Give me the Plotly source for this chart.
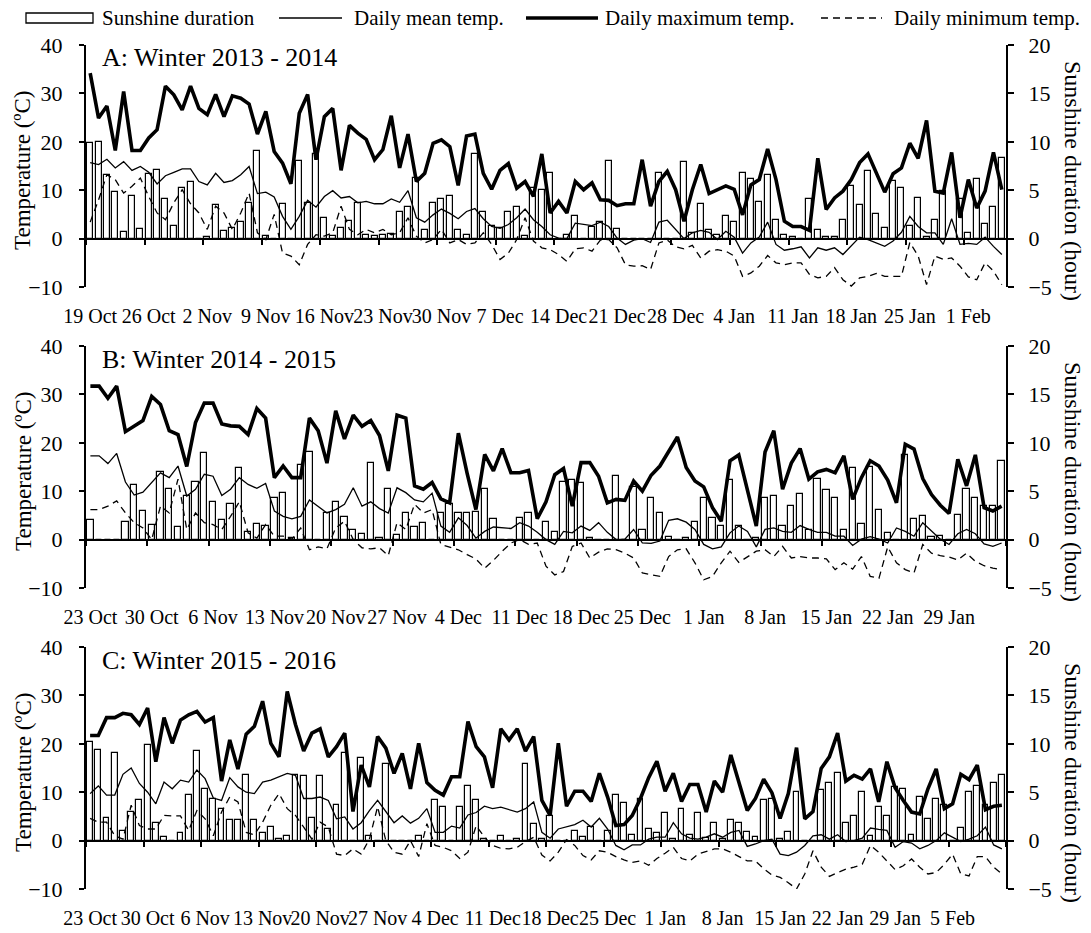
import plotly.graph_objects as go
import pandas as pd

# ---------------- DATA ----------------
# Panel A: Winter 2013 - 2014 (daily, starting 19 Oct 2013)
A_START = "2013-10-19"
A_SUN = [9.9, 10.0, 6.6, 4.8, 0.7, 4.4, 1.0, 6.7, 7.1, 4.1, 1.3, 5.2, 5.8, 0, 0.2, 3.5, 0.8, 1.1, 1.7, 3.7,
         9.1, 0.3, 0, 3.6, 0, 8.0, 3.7, 8.7, 2.1, 0.3, 1.1, 1.8, 3.7, 0.4, 0.3, 0.4, 0.5, 2.7, 3.3, 6.3,
         0.9, 3.7, 4.1, 4.4, 0.9, 0.4, 8.7, 2.7, 1.3, 1.1, 2.7, 3.3, 0.3, 5.2, 5.0, 6.8, 0, 0.4, 2.3, 0,
         1.2, 1.7, 8.0, 1.0, 0, 0, 0, 0, 6.8, 0, 0, 7.9, 0.6, 3.6, 0.9, 0.4, 2.3, 1.7, 6.8, 6.2,
         3.8, 6.6, 1.9, 0.4, 0.2, 0, 4.1, 0.9, 0.2, 0.2, 1.9, 5.4, 3.5, 7.0, 2.5, 1.1, 6.0, 5.2, 1.3, 4.2,
         0.2, 1.9, 4.9, 0, 4.1, 0.6, 6.2, 1.5, 3.3, 8.3]
A_MEAN = [15.7, 15.3, 16.4, 14.6, 15.9, 14.1, 14.9, 13.7, 11.3, 13.0, 13.7, 14.4, 14.4, 11.8, 11.1, 13.5, 11.6, 12.0, 13.2, 14.9,
          9.3, 9.6, 8.6, 4.6, 1.9, 4.6, 7.9, 6.5, 8.7, 9.9, 8.4, 8.7, 7.4, 7.7, 7.2, 7.2, 8.2, 7.5, 9.9, 4.3,
          3.4, 4.9, 6.1, 5.2, 4.1, 5.6, 6.2, 4.1, 2.5, 2.1, 2.9, 4.3, 6.1, 3.9, 2.5, 0.8, 0.1, 0.0, 3.2, 2.9,
          2.7, 3.4, 2.5, 0.1, -1.2, -0.3, 0.0, -0.8, 3.4, 3.8, 1.9, 0.0, 1.2, 1.7, 1.3, -0.2, 1.5, 0.3, -3.0, -0.9,
          0.3, 3.4, -1.2, -2.4, -2.1, -1.7, -4.0, -1.9, -2.4, -1.9, -3.3, -1.4, 0.3, -0.2, -0.9, -1.6, -0.5, 1.3, 4.6, 2.5,
          1.2, 1.2, -1.2, 4.1, -1.2, -1.0, -1.2, 0.3, -1.6, -3.3]
A_MAX = [34.2, 24.9, 27.4, 18.2, 30.4, 18.2, 18.2, 20.8, 22.5, 31.5, 29.7, 26.6, 31.5, 26.9, 25.6, 29.8, 25.2, 29.5, 29.0, 27.8,
         21.6, 26.3, 18.0, 15.6, 11.3, 25.9, 29.8, 16.3, 25.2, 26.9, 14.1, 23.4, 21.8, 20.5, 16.3, 18.4, 25.4, 14.6, 21.6, 11.8,
         13.5, 19.7, 20.4, 19.0, 11.0, 21.2, 21.6, 13.5, 10.2, 14.1, 15.5, 10.4, 11.8, 8.7, 17.5, 5.3, 7.7, 5.3, 11.8, 10.1,
         11.5, 8.0, 7.9, 6.8, 7.2, 7.2, 16.3, 6.7, 11.8, 13.9, 10.1, 3.6, 10.1, 15.3, 9.3, 10.1, 10.9, 10.2, 4.9, 11.1,
         12.2, 18.5, 12.2, 3.6, 2.5, 2.5, 1.7, 16.6, 6.0, 8.4, 9.8, 12.2, 15.7, 17.5, 13.5, 9.6, 13.4, 14.6, 19.7, 16.6,
         24.4, 9.8, 9.4, 17.8, 4.3, 12.2, 6.3, 9.8, 17.8, 10.1]
A_MIN = [3.4, 8.0, 13.2, 12.2, 9.4, 10.8, 12.5, 8.7, 5.3, 3.9, 7.4, 10.1, 7.2, 5.3, 1.9, 6.7, 5.3, 1.9, 5.3, 9.4,
         1.2, -0.2, 5.0, -3.0, -3.6, -5.4, -1.2, 0.8, 0.5, 1.2, 6.7, 1.9, 0.8, 1.9, 1.2, 1.9, 0.8, 1.2, 4.3, 0.5,
         -0.9, -0.2, 1.9, -0.9, -0.2, -1.2, -0.9, 1.2, -1.2, -4.3, -3.0, -0.2, 4.3, -0.5, -1.9, -2.3, -3.3, -4.7, -2.1, -1.9,
         -2.6, -0.3, -0.2, -1.9, -5.4, -5.7, -5.6, -6.4, -0.9, -0.3, -1.7, -2.1, -1.4, -4.0, -2.6, -2.3, -2.6, -3.6, -7.8, -7.1,
         -5.7, -3.5, -5.0, -5.4, -5.0, -5.0, -7.4, -8.1, -7.8, -6.0, -8.5, -9.8, -8.1, -7.8, -7.2, -7.8, -7.8, -7.8, -0.8, -3.6,
         -9.5, -3.6, -4.3, -4.0, -5.7, -7.9, -8.5, -5.0, -6.7, -9.5]
A_TICKTEXT = ["19 Oct", "26 Oct", "2 Nov", "9 Nov", "16 Nov", "23 Nov", "30 Nov", "7 Dec", "14 Dec",
              "21 Dec", "28 Dec", "4 Jan", "11 Jan", "18 Jan", "25 Jan", "1 Feb"]

# Panel B: Winter 2014 - 2015 (daily, starting 23 Oct 2014)
B_START = "2014-10-23"
B_SUN = [2.0, 0, 0, 0, 1.8, 5.6, 3.0, 1.5, 7.0, 5.2, 1.3, 4.5, 6.0, 8.9, 3.9, 2.0, 3.7, 7.4, 0.8, 1.6,
         1.4, 4.3, 4.8, 0.2, 7.7, 9.1, 0, 2.7, 3.9, 2.3, 1.0, 0.6, 7.9, 0.2, 5.2, 0.5, 2.7, 1.3, 1.7, 0,
         2.7, 3.7, 2.7, 2.7, 2.9, 5.2, 2.1, 0, 0, 2.2, 2.7, 0, 1.8, 0.8, 6.0, 6.2, 5.8, 0.2, 0, 0,
         6.6, 0, 5.4, 1.0, 4.3, 2.7, 0.3, 0, 0.2, 1.8, 4.3, 2.2, 1.4, 6.2, 1.4, 0, 0.2, 4.3, 4.5, 1.4,
         3.5, 4.7, 1.0, 6.3, 5.1, 4.3, 1.0, 7.4, 1.6, 7.5, 3.1, 0.7, 0, 8.7, 2.1, 2.4, 0.3, 0.4, 0, 2.5,
         5.2, 4.3, 3.5, 3.5, 8.1]
B_MEAN = [17.3, 17.3, 15.7, 17.8, 11.9, 9.2, 9.8, 11.9, 13.8, 12.8, 15.2, 9.0, 10.4, 13.5, 13.1, 9.1, 10.4, 12.8, 11.4, 10.6,
          11.6, 5.9, 4.8, 4.3, 4.8, 8.2, 6.8, 5.5, 6.2, 7.3, 10.7, 6.9, 7.8, 6.4, 5.5, 10.7, 9.7, 8.2, 7.8, 9.6,
          2.8, 1.5, 4.5, 2.9, 0.3, 1.7, 2.6, 2.4, 2.3, 3.5, 2.8, 1.5, 0.0, -1.0, 1.7, 1.4, 2.8, 1.9, 3.5, 1.5,
          0.0, 0.1, 2.1, -0.7, -0.8, -0.3, 4.0, 4.3, 3.6, 2.1, -1.0, -1.9, -1.5, 1.4, 2.8, 1.7, -1.5, 2.1, 2.4, 1.7,
          1.5, 2.9, 2.1, 1.5, 1.5, 0.7, 0.7, -1.2, 0.1, 0.6, 0.1, -0.7, 2.4, 1.7, 0.7, 3.5, 1.7, 0.1, -1.0, 1.2,
          2.1, 1.2, -0.9, -1.4, -0.7]
B_MAX = [31.7, 31.7, 29.2, 31.7, 22.3, 23.5, 24.6, 29.6, 27.9, 22.5, 21.7, 15.1, 24.2, 28.2, 28.2, 23.9, 23.5, 23.4, 21.7, 27.1,
         25.1, 12.8, 15.2, 12.8, 12.8, 25.1, 22.5, 15.8, 26.6, 20.8, 25.7, 23.4, 24.6, 21.5, 14.2, 25.7, 25.1, 11.1, 10.4, 11.8,
         8.4, 7.6, 22.0, 13.7, 6.2, 17.6, 14.2, 18.8, 13.8, 13.8, 14.3, 4.3, 7.8, 13.4, 14.7, 6.9, 15.9, 15.9, 13.1, 7.6,
         8.3, 8.1, 12.1, 10.0, 13.3, 15.2, 18.3, 21.2, 14.9, 12.1, 10.9, 6.6, 3.8, 16.3, 17.5, 10.0, 2.8, 18.1, 22.5, 10.4,
         15.8, 18.8, 12.5, 14.0, 14.5, 13.8, 17.3, 8.3, 12.8, 16.3, 15.2, 12.3, 7.6, 19.7, 18.7, 12.6, 9.3, 7.1, 5.4, 16.6,
         11.1, 17.5, 6.6, 5.9, 6.9]
B_MIN = [6.2, 6.2, 6.9, 8.0, 5.5, 3.5, 2.4, 0.0, 6.9, 5.5, 12.5, 2.1, 5.5, 3.5, 3.1, 2.1, 4.8, 7.8, 1.4, 0.3,
         3.1, 0.7, 0.7, 0.1, 2.4, -2.1, -1.5, -1.9, 2.4, 3.8, 0.0, -1.7, -1.9, -1.7, -3.3, 3.5, 2.1, 7.3, 5.5, 6.2,
         -1.0, -1.5, -2.1, -3.1, -4.0, -5.9, -4.3, -2.4, -0.7, 0.0, -1.0, -0.7, -5.5, -7.3, -6.6, -1.4, -0.7, -3.8, -2.6, -1.9,
         -2.1, -2.8, -3.8, -6.9, -7.3, -7.6, -3.5, -2.1, -1.9, -4.8, -8.3, -7.6, -4.8, -2.4, -4.7, -3.5, -2.4, -2.1, -3.5, -1.4,
         -3.8, -3.5, -3.8, -3.8, -4.0, -6.2, -4.8, -6.1, -3.5, -7.6, -8.0, -1.5, -4.8, -6.2, -6.9, -1.0, -2.8, -3.3, -3.6, -4.2,
         -2.8, -4.5, -5.4, -5.9, -6.2]
B_TICKTEXT = ["23 Oct", "30 Oct", "6 Nov", "13 Nov", "20 Nov", "27 Nov", "4 Dec", "11 Dec", "18 Dec",
              "25 Dec", "1 Jan", "8 Jan", "15 Jan", "22 Jan", "29 Jan"]

# Panel C: Winter 2015 - 2016 (daily, starting 23 Oct 2015)
C_START = "2015-10-23"
C_SUN = [10.2, 9.4, 2.3, 9.1, 1.0, 3.0, 4.2, 9.9, 1.8, 0.4, 0, 0.8, 4.7, 9.3, 5.3, 4.3, 3.3, 2.1, 2.1, 6.8,
         2.1, 0.8, 1.4, 0.2, 0.5, 6.8, 6.7, 2.3, 6.7, 1.2, 3.7, 9.1, 0, 8.5, 0.5, 0, 7.9, 0, 0, 0,
         0.5, 0, 4.2, 3.5, 0, 3.5, 5.6, 4.2, 0.2, 0, 0.5, 0, 0.2, 7.9, 1.7, 0.2, 2.5, 0, 0, 1.0,
         0.4, 1.4, 0, 1.0, 4.7, 3.9, 0.6, 4.3, 1.2, 0.8, 2.9, 0.2, 3.3, 0.6, 2.9, 0.3, 1.8, 0.2, 2.1, 1.8,
         0.9, 0.4, 4.2, 4.3, 0.2, 0.9, 5.0, 0, 0, 5.2, 6.0, 7.0, 1.8, 2.5, 5.0, 0.5, 3.5, 2.5, 5.5, 5.3,
         0.6, 4.5, 2.2, 4.3, 3.7, 0, 1.3, 5.0, 5.6, 3.7, 6.0, 6.8]
C_MEAN = [9.7, 11.3, 9.4, 9.4, 13.7, 15.0, 11.8, 10.0, 7.6, 12.1, 10.7, 12.5, 12.1, 14.6, 12.8, 8.8, 8.3, 13.0, 11.1, 10.0,
          9.7, 12.1, 12.5, 13.2, 13.9, 13.5, 8.7, 8.7, 9.0, 8.3, 4.5, 4.9, 2.4, 3.7, 6.2, 8.3, 5.9, 3.7, 5.1, 3.6,
          4.6, 6.6, 1.7, 1.7, 3.0, 2.6, 5.3, 5.8, 7.1, 6.6, 6.9, 6.4, 5.9, 6.6, 8.0, 1.7, 0.5, 2.4, 2.8, 3.3,
          4.2, 2.8, 4.6, 2.4, -1.0, -1.9, -0.9, -0.9, 0.3, 0.7, 0.7, 3.7, 1.4, 0.5, 0.3, 0.7, 1.4, 0.7, 1.7, 2.1,
          -1.2, -0.7, 0.0, 0.3, -2.8, -3.1, -2.4, -1.0, 1.0, 1.2, 0.3, 1.2, -0.2, 0.0, 0.5, 2.6, 2.3, 2.1, -1.4, -0.2,
          -0.5, -1.7, -1.0, 0.0, 1.6, 0.7, -0.2, 0.3, 1.0, 2.8, -0.9, -1.7]
C_MAX = [21.7, 21.7, 25.4, 25.4, 26.3, 26.0, 24.0, 27.4, 16.3, 25.4, 20.1, 24.9, 26.0, 26.7, 24.5, 25.4, 12.3, 20.8, 14.8, 22.0,
         23.6, 28.8, 20.1, 17.3, 30.8, 24.0, 18.5, 22.2, 23.1, 17.3, 19.4, 22.2, 6.0, 15.6, 11.1, 21.5, 19.1, 13.9, 18.0, 10.7,
         20.1, 12.0, 10.4, 9.4, 13.2, 13.2, 24.6, 19.4, 17.3, 10.9, 23.1, 20.8, 23.1, 18.5, 21.5, 8.3, 5.2, 20.1, 7.1, 10.2,
         10.2, 8.1, 13.9, 9.0, 3.1, 3.3, 5.2, 8.7, 13.0, 16.4, 10.2, 13.9, 8.1, 11.6, 11.6, 5.9, 12.3, 10.0, 17.7, 11.8,
         6.2, 8.7, 12.7, 9.9, 4.6, 9.7, 19.2, 4.5, 6.0, 14.9, 17.3, 22.2, 12.3, 13.5, 12.7, 14.8, 8.0, 16.3, 10.9, 8.3,
         5.9, 5.5, 10.7, 14.8, 6.6, 7.6, 13.7, 12.6, 15.6, 6.4, 7.1, 7.3]
C_MIN = [4.6, 3.8, 3.8, 1.0, 0.3, 7.3, 3.1, 2.4, 2.4, 5.2, 5.1, 5.1, 2.1, 6.2, 4.5, 1.0, 5.9, 9.0, 8.0, 1.7,
         1.2, 3.8, 7.3, 9.7, 6.6, 5.2, 2.8, 0.3, 3.8, 2.8, -2.8, -3.1, -1.7, -2.8, 0.3, 7.0, 0.0, -2.4, -2.8, 0.0,
         -3.3, 3.5, -1.0, -1.4, -2.1, -3.7, -2.4, 3.1, 0.7, -1.0, -1.6, -1.7, -1.4, -0.2, 0.7, -3.0, -4.2, -2.4, 0.2, -1.0,
         -3.1, -4.0, -2.1, -2.4, -3.3, -4.0, -4.5, -4.2, -5.1, -3.7, -2.6, -1.4, -3.7, -4.2, -2.8, -2.3, -1.7, -1.7, -2.4, -3.3,
         -4.2, -4.2, -5.8, -7.1, -7.6, -8.7, -10.0, -6.9, -2.1, -5.5, -7.4, -6.6, -5.9, -5.5, -4.9, -1.0, -2.4, -4.2, -6.0, -5.2,
         -3.8, -5.5, -6.9, -6.6, -4.9, -2.8, -6.9, -7.3, -3.3, -3.3, -5.5, -6.9]
C_TICKTEXT = ["23 Oct", "30 Oct", "6 Nov", "13 Nov", "20 Nov", "27 Nov", "4 Dec", "11 Dec", "18 Dec",
              "25 Dec", "1 Jan", "8 Jan", "15 Jan", "22 Jan", "29 Jan", "5 Feb"]

PANEL_TITLES = ["A: Winter 2013 - 2014", "B: Winter 2014 - 2015", "C: Winter 2015 - 2016"]
SERIES_NAMES = ["Sunshine duration", "Daily mean temp.", "Daily maximum temp.", "Daily minimum temp."]

panels = [
    (A_START, A_SUN, A_MEAN, A_MAX, A_MIN, A_TICKTEXT),
    (B_START, B_SUN, B_MEAN, B_MAX, B_MIN, B_TICKTEXT),
    (C_START, C_SUN, C_MEAN, C_MAX, C_MIN, C_TICKTEXT),
]

# ---------------- LAYOUT GEOMETRY ----------------
W, H = 1091, 933
ML, MR, MT, MB = 86, 85, 45, 44
PW = W - ML - MR
PH = H - MT - MB
PANEL_TOPS = [45, 346, 647]
PANEL_HPX = 242
FONT = "Liberation Serif"


def pxx(px):
    return (px - ML) / PW


def pxy(py):
    return 1 - (py - MT) / PH


fig = go.Figure()
layout = dict(
    width=W, height=H,
    margin=dict(l=ML, r=MR, t=MT, b=MB, autoexpand=False),
    paper_bgcolor="white", plot_bgcolor="white",
    font=dict(family=FONT, color="black", size=20),
    showlegend=False,
    bargap=0,
    annotations=[], shapes=[],
)

DAY = pd.Timedelta(days=1)
HALF = pd.Timedelta(hours=12)

for p, (start, sun, tmean, tmax, tmin, ticktext) in enumerate(panels):
    k = p + 1
    ko = p + 4
    sfx = "" if k == 1 else str(k)
    dates = pd.date_range(start, periods=len(sun), freq="D")
    x0, x1 = dates[0] - HALF, dates[-1] + HALF
    top = PANEL_TOPS[p]
    dom = [pxy(top + PANEL_HPX), pxy(top)]
    zero_pos = dom[0] + (dom[1] - dom[0]) * (10 / 50)

    label_vals = [dates[0] + 7 * i * DAY for i in range(len(ticktext))]
    bound_vals = []
    b = dates[0] - HALF
    while b <= x1:
        bound_vals.append(b)
        b += 7 * DAY

    fig.add_trace(go.Bar(
        x=dates, y=sun, name=SERIES_NAMES[0], xaxis="x" + sfx, yaxis="y" + sfx,
        width=0.72 * 86400000,
        marker=dict(color="white", line=dict(color="black", width=1.2)),
    ))
    fig.add_trace(go.Scatter(
        x=dates, y=tmean, name=SERIES_NAMES[1], xaxis=f"x{ko}", yaxis=f"y{ko}",
        mode="lines", line=dict(color="black", width=1.3)))
    fig.add_trace(go.Scatter(
        x=dates, y=tmax, name=SERIES_NAMES[2], xaxis=f"x{ko}", yaxis=f"y{ko}",
        mode="lines", line=dict(color="black", width=3.6)))
    fig.add_trace(go.Scatter(
        x=dates, y=tmin, name=SERIES_NAMES[3], xaxis=f"x{ko}", yaxis=f"y{ko}",
        mode="lines", line=dict(color="black", width=1.3, dash="7px,5px")))

    # bottom axis carrying the date labels
    layout["xaxis" + sfx] = dict(
        domain=[0, 1], anchor="y" + sfx, type="date", range=[x0, x1],
        showline=False, ticks="", showgrid=False, zeroline=False,
        tickmode="array", tickvals=label_vals, ticktext=ticktext,
        tickangle=0, tickfont=dict(size=20), ticklabelstandoff=15,
    )
    # sunshine axis (right)
    layout["yaxis" + sfx] = dict(
        domain=dom, anchor="x" + sfx, side="right", range=[-5, 20],
        tickmode="array", tickvals=[-5, 0, 5, 10, 15, 20],
        ticks="outside", ticklen=6, tickwidth=2, tickcolor="black",
        showline=True, linewidth=2, linecolor="black",
        showgrid=False, zeroline=False, tickfont=dict(size=22), ticklabelstandoff=10,
    )
    # axis line at 0 degrees with week ticks
    layout[f"xaxis{ko}"] = dict(
        overlaying="x" + sfx, anchor="free", position=zero_pos, type="date", range=[x0, x1],
        showline=True, linewidth=2, linecolor="black",
        ticks="outside", ticklen=5, tickwidth=2, tickcolor="black",
        tickmode="array", tickvals=bound_vals, showticklabels=False,
        showgrid=False, zeroline=False,
    )
    # temperature axis (left)
    layout[f"yaxis{ko}"] = dict(
        overlaying="y" + sfx, anchor=f"x{ko}", side="left", range=[-10, 40],
        tickmode="array", tickvals=[-10, 0, 10, 20, 30, 40],
        ticks="outside", ticklen=5, tickwidth=2, tickcolor="black",
        showline=True, linewidth=2, linecolor="black",
        showgrid=False, zeroline=False, tickfont=dict(size=22), ticklabelstandoff=12,
    )

    # panel title
    layout["annotations"].append(dict(
        text=PANEL_TITLES[p], xref="paper", yref="paper", x=pxx(100), y=pxy(top + 13),
        xanchor="left", yanchor="middle", showarrow=False, font=dict(size=26)))
    # axis titles
    mid = top + PANEL_HPX / 2
    layout["annotations"].append(dict(
        text="Temperature (ºC)", xref="paper", yref="paper", x=pxx(23), y=pxy(mid + 5),
        xanchor="center", yanchor="middle", textangle=-90, showarrow=False, font=dict(size=23)))
    layout["annotations"].append(dict(
        text="Sunshine duration (hour)", xref="paper", yref="paper", x=pxx(1073), y=pxy(mid + 15),
        xanchor="center", yanchor="middle", textangle=90, showarrow=False, font=dict(size=24)))

# ---------------- LEGEND (drawn at top) ----------------
LY = 18
layout["shapes"] += [
    dict(type="rect", xref="paper", yref="paper", x0=pxx(26), x1=pxx(93), y0=pxy(23), y1=pxy(13),
         line=dict(color="black", width=1.3), fillcolor="white"),
    dict(type="line", xref="paper", yref="paper", x0=pxx(279), x1=pxx(342), y0=pxy(LY), y1=pxy(LY),
         line=dict(color="black", width=1.3)),
    dict(type="line", xref="paper", yref="paper", x0=pxx(526), x1=pxx(598), y0=pxy(LY), y1=pxy(LY),
         line=dict(color="black", width=3.6)),
    dict(type="line", xref="paper", yref="paper", x0=pxx(821), x1=pxx(882), y0=pxy(LY), y1=pxy(LY),
         line=dict(color="black", width=1.3, dash="7px,5px")),
]
for name, lx in zip(SERIES_NAMES, [100, 352, 603, 892]):
    layout["annotations"].append(dict(
        text=name, xref="paper", yref="paper", x=pxx(lx), y=pxy(LY),
        xanchor="left", yanchor="middle", showarrow=False, font=dict(size=21)))

fig.update_layout(**layout)
fig.write_html("out.html")
